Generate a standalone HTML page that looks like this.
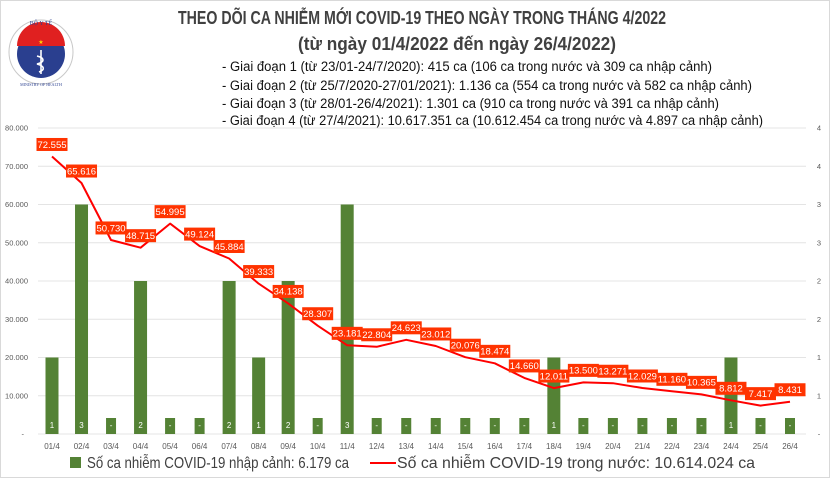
<!DOCTYPE html>
<html><head><meta charset="utf-8">
<style>
html,body{margin:0;padding:0;background:#fff;}
svg{display:block;font-family:"Liberation Sans Narrow","Liberation Sans",sans-serif;}
</style></head>
<body>
<svg id="s" width="830" height="478" viewBox="0 0 830 478" xmlns="http://www.w3.org/2000/svg">
<rect x="0.5" y="0.5" width="829" height="477" fill="#fff" stroke="#d9d9d9"/>
<circle cx="41" cy="52" r="32" fill="#fff" stroke="#c8c8c8" stroke-width="1"/>
<circle cx="41" cy="54" r="24" fill="#2a3f8f"/>
<path d="M17,46 A24,24 0 0 1 65,46 Z" fill="#e02020"/>
<text x="41" y="44" font-size="6" fill="#ffd400" text-anchor="middle">★</text>
<path d="M41,50 L41,74 M37,56 C45,58 45,62 37,64 C45,66 45,70 39,72" stroke="#fff" stroke-width="1.6" fill="none"/>
<text x="41" y="25" font-size="6" fill="#2a3f8f" text-anchor="middle" font-family="Liberation Serif,serif">BỘ Y TẾ</text>
<text x="41" y="86" font-size="4" fill="#2a3f8f" text-anchor="middle" font-family="Liberation Serif,serif">MINISTRY OF HEALTH</text>
<g fill="#404040" font-weight="bold">
<text x="178" y="24" font-size="18" textLength="488" lengthAdjust="spacingAndGlyphs">THEO DÕI CA NHIỄM MỚI COVID-19 THEO NGÀY TRONG THÁNG 4/2022</text>
<text x="298" y="50" font-size="18" textLength="318" lengthAdjust="spacingAndGlyphs">(từ ngày 01/4/2022 đến ngày 26/4/2022)</text>
</g>
<g fill="#111" font-size="13.5">
<text x="222" y="71" textLength="490" lengthAdjust="spacingAndGlyphs">- Giai đoạn 1 (từ 23/01-24/7/2020): 415 ca (106 ca trong nước và 309 ca nhập cảnh)</text>
<text x="222" y="90" textLength="530" lengthAdjust="spacingAndGlyphs">- Giai đoạn 2 (từ 25/7/2020-27/01/2021): 1.136 ca (554 ca trong nước và 582 ca nhập cảnh)</text>
<text x="222" y="108" textLength="497" lengthAdjust="spacingAndGlyphs">- Giai đoạn 3 (từ 28/01-26/4/2021): 1.301 ca (910 ca trong nước và 391 ca nhập cảnh)</text>
<text x="222" y="125" textLength="541" lengthAdjust="spacingAndGlyphs">- Giai đoạn 4 (từ 27/4/2021): 10.617.351 ca (10.612.454 ca trong nước và 4.897 ca nhập cảnh)</text>
</g>
<g id="g"></g>
<rect x="70" y="457" width="11" height="11" fill="#548235"/>
<text x="87" y="468" font-size="16" fill="#404040" font-family="Liberation Sans,sans-serif" textLength="262" lengthAdjust="spacingAndGlyphs">Số ca nhiễm COVID-19 nhập cảnh: 6.179 ca</text>
<line x1="370" y1="463" x2="396" y2="463" stroke="#ff0000" stroke-width="2"/>
<text x="397" y="468" font-size="16" fill="#404040" font-family="Liberation Sans,sans-serif" textLength="358" lengthAdjust="spacingAndGlyphs">Số ca nhiễm COVID-19 trong nước: 10.614.024 ca</text>
</svg>
<script>
var NS="http://www.w3.org/2000/svg",g=document.getElementById("g");
function el(t,a,txt){var e=document.createElementNS(NS,t);for(var k in a)e.setAttribute(k,a[k]);if(txt!=null)e.textContent=txt;g.appendChild(e);return e;}
var y0=434,ys=306/80000;
var L=["80.000","70.000","60.000","50.000","40.000","30.000","20.000","10.000","-"];
var R=["4","4","3","3","2","2","1","1","-"];
for(var i=0;i<9;i++){var y=128+i*38.25;
 el("line",{x1:38,y1:y,x2:806,y2:y,stroke:"#e4e4e4","stroke-width":1});
 el("text",{x:i==8?24:28,y:y+2.5,"font-size":7.5,fill:"#595959","text-anchor":"end"},L[i]);
 el("text",{x:819,y:y+2.5,"font-size":7.5,fill:"#595959","text-anchor":"middle"},R[i]);}
var v=[72555,65616,50730,48715,54995,49124,45884,39333,34138,28307,23181,22804,24623,23012,20076,18474,14660,12011,13500,13271,12029,11160,10365,8812,7417,8431];
var b=[1,3,0,2,0,0,2,1,2,0,3,0,0,0,0,0,0,1,0,0,0,0,0,1,0,0];
var step=(790-52)/25,pts=[];
for(var i=0;i<26;i++){var x=52+i*step;
 if(b[i]){var h=b[i]*20000*ys;el("rect",{x:x-6.5,y:y0-h,width:13,height:h,fill:"#548235"});
  el("text",{x:x,y:y0-6,"font-size":8,fill:"#fff","text-anchor":"middle"},String(b[i]));}
 else{el("rect",{x:x-5,y:y0-16,width:10,height:16,fill:"#548235"});
  el("text",{x:x,y:y0-6,"font-size":8,fill:"#fff","text-anchor":"middle"},"-");}
 var d=(i+1<10?"0":"")+(i+1)+"/4";
 el("text",{x:x,y:449,"font-size":8,fill:"#595959","text-anchor":"middle"},d);
 pts.push(x.toFixed(1)+","+(y0-v[i]*ys).toFixed(1));}
el("polyline",{points:pts.join(" "),fill:"none",stroke:"#ff0000","stroke-width":2,"stroke-linejoin":"round"});
for(var i=0;i<26;i++){var x=52+i*step,y=y0-v[i]*ys-12;
 el("rect",{x:x-15.5,y:y-6.5,width:31,height:13,fill:"#ff3300"});
 var s=v[i].toString().replace(/\B(?=(\d{3})+(?!\d))/g,".");
 el("text",{x:x,y:y+3.3,"font-size":9.5,fill:"#fff","text-anchor":"middle"},s);}
</script>
</body></html>
